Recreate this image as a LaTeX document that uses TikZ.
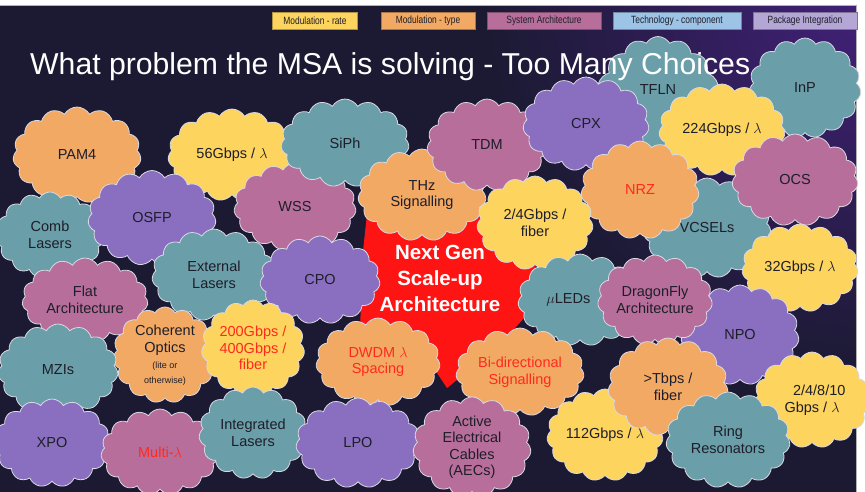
\documentclass[tikz,border=0pt]{standalone}
\usepackage{fontspec}
\setmainfont{Liberation Sans}
\newfontfamily\narrowfont[FakeStretch=0.8]{Liberation Sans}
\usetikzlibrary{shapes.symbols}
\definecolor{bgnavy}{HTML}{1B1A32}
\definecolor{bgpurple}{HTML}{45217E}
\definecolor{cyel}{HTML}{FDD45E}
\definecolor{cora}{HTML}{F2A963}
\definecolor{cpnk}{HTML}{B76E9A}
\definecolor{ctea}{HTML}{6A9EA8}
\definecolor{cpur}{HTML}{8A6FC0}
\definecolor{ltech}{HTML}{9DC3E6}
\definecolor{lpkg}{HTML}{B4A7D6}
\definecolor{cline}{HTML}{D9D9E3}
\definecolor{ctxt}{HTML}{1E1E2A}
\definecolor{cred}{HTML}{FF2A1E}
\definecolor{nextred}{HTML}{FF1414}
\newcommand\lblfont{\fontsize{14.5}{16.5}\selectfont}
\newcommand\smallfont{\fontsize{9}{10.5}\selectfont}
\tikzset{
  cl/.style={cloud, cloud puffs=15, cloud puff arc=120, cloud ignores aspect,
    draw=cline, line width=0.8pt, text=ctxt, font=\lblfont, align=center, inner sep=1pt},
  legbox/.style={draw=#1!70!black, fill=#1, line width=0.6pt, minimum height=17, inner sep=0pt,
    font=\narrowfont\fontsize{10.5}{11}\selectfont, text=ctxt}
}
\newcommand\cld[6]{\node[cl, fill=#1, minimum width=#4, minimum height=#5] (#2) at (#3) {#6};}
\begin{document}
\begin{tikzpicture}[x=1pt,y=-1pt]
\useasboundingbox (0,0) rectangle (865,492);
% background
\fill[bgnavy] (0,0) rectangle (865,492);
\begin{scope}
\clip (0,0) rectangle (865,492);
\shade[inner color=bgpurple, outer color=bgnavy] (880,-20) circle (400);
\end{scope}
\fill[white] (0,0) rectangle (865,5);
\fill[white] (856,0) rectangle (865,492);
\draw[gray!60, line width=0.8pt] (0,5.5) -- (856,5.5) -- (856,492);
% legend
\node[legbox=cyel, minimum width=85] (lrate) at (315,21) {Modulation - rate};
\node[legbox=cora, minimum width=94] (ltype) at (428,21) {Modulation - type};
\node[legbox=cpnk, minimum width=114] (lsys) at (544,21) {System Architecture};
\node[legbox=ltech, minimum width=128] (ltechn) at (677,21) {Technology - component};
\node[legbox=lpkg, minimum width=104] (lpkgn) at (805,21) {Package Integration};
% clouds (back to front)
\cld{ctea}{tfln}{658,104}{125}{135}{\raisebox{3.9ex}{TFLN}}
\cld{ctea}{inp}{805,88}{112}{100}{InP}
\cld{cora}{pam4}{77,155}{128}{96}{PAM4}
\cld{cyel}{g56}{232,155}{128}{92}{56Gbps / $\lambda$}
\cld{ctea}{comb}{50,235}{108}{86}{Comb\\Lasers}
\cld{cpur}{osfp}{152,218}{128}{95}{OSFP}
\cld{cpnk}{wss}{295,207}{122}{88}{WSS}
\cld{ctea}{siph}{345,143}{128}{88}{SiPh}
\fill[nextred] (368,205) -- (470,200) -- (528,210) -- (540,300) -- (500,345) -- (447,388) -- (415,340) -- (360,335) -- (362,260) -- cycle;
\cld{cora}{thz}{422,195}{128}{92}{THz\\Signalling}
\cld{cpnk}{tdm}{487,145}{120}{92}{TDM}
\cld{cpur}{cpx}{586,124}{126}{94}{CPX}
\cld{cyel}{g224}{722,130}{126}{92}{224Gbps / $\lambda$}
\cld{ctea}{vcsel}{707,228}{128}{100}{VCSELs}
\cld{cora}{nrz}{640,190}{118}{98}{\textcolor{cred}{NRZ}}
\cld{cpnk}{ocs}{795,180}{126}{92}{OCS}
\cld{cyel}{g24}{535,223}{116}{94}{2/4Gbps /\\fiber}
\cld{ctea}{ext}{214,275}{124}{92}{External\\Lasers}
\cld{cpur}{cpo}{320,280}{120}{88}{CPO}
\cld{cpnk}{flat}{85,300}{126}{84}{Flat\\Architecture}
\cld{ctea}{uled}{580,300}{124}{92}{\hspace*{-1.6em}$\mu$LEDs}
\cld{cyel}{g32}{800,268}{116}{88}{32Gbps / $\lambda$}
\cld{cpur}{npo}{740,335}{118}{100}{NPO}
\cld{cpnk}{dragon}{655,300}{114}{90}{DragonFly\\Architecture}
\cld{cora}{coh}{165,355}{104}{94}{Coherent\\Optics\\{\smallfont (lite or}\\[-2pt]{\smallfont otherwise)}}
\cld{cyel}{g200}{253,348}{100}{96}{\textcolor{cred}{200Gbps /}\\\textcolor{cred}{400Gbps /}\\\textcolor{cred}{fiber}}
\cld{ctea}{mzi}{58,370}{120}{92}{MZIs}
\cld{cora}{dwdm}{378,362}{124}{88}{\textcolor{cred}{DWDM $\lambda$}\\\textcolor{cred}{Spacing}}
\cld{cora}{bidi}{520,372}{128}{88}{\textcolor{cred}{Bi-directional}\\\textcolor{cred}{Signalling}}
\cld{cyel}{g2410}{812,400}{116}{96}{\hspace*{1em}2/4/8/10\\Gbps / $\lambda$}
\cld{cpur}{xpo}{52,443}{116}{88}{XPO}
\cld{cpnk}{multi}{160,452}{118}{86}{\textcolor{cred}{Multi-$\lambda$}}
\cld{ctea}{intl}{253,433}{108}{92}{Integrated\\Lasers}
\cld{cpur}{lpo}{358,443}{124}{90}{LPO}
\cld{cpnk}{aec}{472,447}{118}{96}{Active\\Electrical\\Cables\\(AECs)}
\cld{cyel}{g112}{605,435}{116}{92}{112Gbps / $\lambda$}
\cld{cora}{tbps}{668,387}{120}{98}{>Tbps /\\fiber}
\cld{ctea}{ring}{728,440}{124}{96}{Ring\\Resonators}
% centre text
\node[text=white, font=\bfseries\fontsize{20.5}{26}\selectfont, align=center] (nextgen) at (440,278) {Next Gen\\Scale-up\\Architecture};
% title
\node[text=white, font=\fontsize{30.2}{33}\selectfont, anchor=west, inner sep=0pt] (title) at (30,67) {What problem the MSA is solving - Too Many Choices};
\end{tikzpicture}
\end{document}
